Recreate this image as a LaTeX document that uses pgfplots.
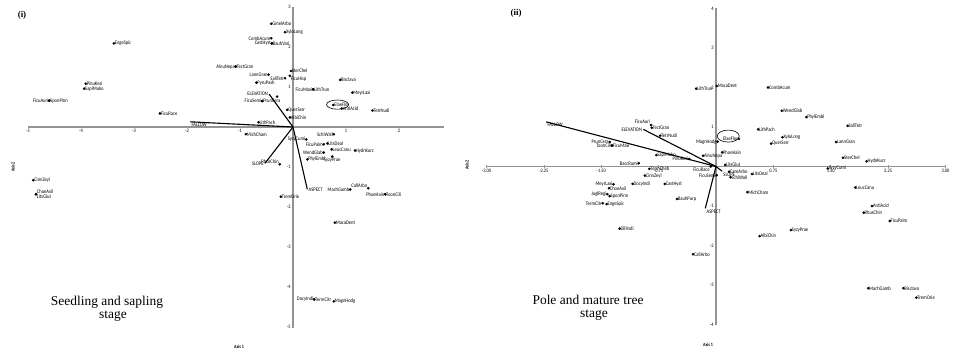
\documentclass[border=0pt]{standalone}
\usepackage{pgfplots}
\pgfplotsset{compat=1.18}
\usepackage{fontspec}
\setmainfont{Liberation Serif}
\newfontfamily\lab[FakeStretch=0.85]{Carlito}

\tikzset{veclab/.style={font=\lab\fontsize{5.4}{6}\selectfont, inner sep=0.8bp}}
\pgfplotsset{
  ordi/.style={
    anchor=origin, enlargelimits=false, clip=false,
    axis lines=middle,
    axis line style={-, draw=gray!85, line width=1.4bp},
    every inner x axis line/.append style={-},
    every inner y axis line/.append style={-},
    tick style={draw=gray!85, line width=0.6bp},
    major tick length=2.5bp,
    tick label style={font=\lab\fontsize{5.2}{6}\selectfont, inner sep=1bp},
    /pgf/number format/assume math mode=true,
  },
  spp/.style={
    only marks, mark=*, mark size=1.1bp, black,
    nodes near coords, point meta=explicit symbolic,
    visualization depends on={value \thisrow{anc}\as\anc},
    every node near coord/.append style={anchor=\anc, font=\lab\fontsize{5.4}{6}\selectfont, inner sep=0.8bp},
  },
  vec/.style={black, line width=1.1bp, no marks},
}

\begin{document}
\begin{tikzpicture}
\useasboundingbox (0,0) rectangle (956bp,-354bp);

% ---------- (i) seedling and sapling stage ----------
\begin{axis}[ordi, at={(293bp,-127bp)}, x=53bp, y=40bp,
  xmin=-5, xmax=2.85, ymin=-5, ymax=3,
  xtick={-5,-4,-3,-2,-1,1,2}, ytick={-5,-4,-3,-2,-1,1,2,3}]
\addplot[spp] table[col sep=comma, meta=lab] {
x,y,lab,anc
-3.38,2.09,EngeSpic,west
-3.91,1.08,PinuKesi,west
-3.94,0.96,SapiMuko,west
-4.60,0.66,FicuAuri,east
-4.60,0.66,SponPinn,west
-2.51,0.34,FicuRace,west
-1.08,1.51,AlnuNepa,east
-1.08,1.51,TectGran,west
-0.41,2.58,GmelArbo,west
-0.15,2.37,XyloLong,west
-0.41,2.22,CombAcum,east
-0.40,2.09,CastHyst,east
-0.40,2.09,BauhVari,west
-0.04,1.40,SterChel,west
-0.06,1.28,FicuHisp,north west
-0.46,1.31,LannGran,east
-0.15,1.22,SaliTetr,east
-0.69,1.11,PyruPash,west
0.38,0.94,FicuMaxi,east
0.38,0.94,LithTrun,west
0.89,1.18,Bisclava,west
1.12,0.86,MeyrLaxi,west
0.76,0.55,ElaeFlor,west
0.92,0.46,AntiAcid,west
1.50,0.41,TetrNudi,west
-0.58,0.65,FicuSemi,east
-0.58,0.65,PrunCera,west
-0.11,0.43,QuerSerr,west
-0.06,0.24,AlbiChin,west
-0.65,0.12,LithPach,west
-0.89,-0.18,MichCham,west
0.25,-0.31,SyzyCumi,east
0.77,-0.18,SchiWall,east
0.65,-0.41,LitsDeal,west
0.58,-0.43,FicuPalm,east
0.73,-0.56,LeucCanu,west
1.17,-0.59,HydnKurz,west
0.58,-0.64,WendGlab,east
0.27,-0.81,PhylEmbl,west
0.74,-0.74,SyzyPrae,north
-0.25,-0.93,RhusChin,south east
-0.23,-1.74,TremOrie,west
1.08,-1.56,MachGamb,east
1.42,-1.53,CallArbo,south east
1.74,-1.68,PhoeHain,east
1.74,-1.68,ToonCili,west
0.79,-2.39,MacaDent,west
0.40,-4.31,DocyIndi,east
0.40,-4.31,TermCitr,west
0.77,-4.36,MagnHodg,west
-4.90,-1.33,CinnZeyl,west
-4.85,-1.68,ChoeAxil,south west
-4.85,-1.68,LitsGlut,north west
};
\addplot[only marks, mark=*, mark size=1.1bp, black] coordinates {(-0.30,0.76)};
\addplot[vec] coordinates {(0,0) (-1.94,0.13)} node[veclab, pos=1, anchor=north west] {FALLOW};
\addplot[vec] coordinates {(0,0) (-0.45,0.82)} node[veclab, pos=1, anchor=east] {ELEVATION};
\addplot[vec] coordinates {(0,0) (-0.53,-0.91)} node[veclab, pos=1, anchor=east] {SLOPE};
\addplot[vec] coordinates {(0,0) (0.27,-1.56)} node[veclab, pos=1, anchor=west] {ASPECT};
\draw[black, line width=0.6bp] (axis cs:0.84,0.56) ellipse [x radius=11bp, y radius=4.6bp];
\end{axis}

% ---------- (ii) pole and mature tree stage ----------
\begin{axis}[ordi, at={(716bp,-166.5bp)}, x=76.5bp, y=39.5bp,
  xmin=-3, xmax=3, ymin=-4, ymax=4,
  xtick={-3,-2.25,-1.5,-0.75,0.75,1.5,2.25,3},
  xticklabels={-3.00,-2.25,-1.50,-0.75,0.75,1.50,2.25,3.00},
  ytick={-4,-3,-2,-1,1,2,3,4}]
\addplot[spp] table[col sep=comma, meta=lab] {
x,y,lab,anc
-0.26,1.97,LithTrun,west
0.01,2.04,MacaDent,west
0.68,2.00,CombAcum,west
0.86,1.41,WendGlab,west
1.18,1.25,PhylEmbl,west
1.72,1.03,SaliTetr,west
0.55,0.94,LithPach,west
0.87,0.74,XyloLong,west
0.72,0.58,QuerSerr,west
1.57,0.62,LannGran,west
0.30,0.70,ElaeFlor,east
0.02,0.63,MagnHodg,east
0.08,0.36,PhoeHain,west
-0.17,0.27,AlnuNepa,west
1.66,0.22,SterChel,west
1.97,0.13,HydnKurz,west
1.46,-0.05,SyzyCumi,west
0.12,0.04,LitsGlut,west
0.17,-0.13,CareArbo,west
0.19,-0.27,SchiWall,west
0.47,-0.19,LitsDeal,west
0.41,-0.65,MichCham,west
0.98,-1.61,SyzyPrae,west
0.57,-1.76,AlbiChin,west
1.82,-0.53,LeucCanu,west
2.04,-1.00,AntiAcid,west
1.93,-1.17,RhusChin,west
2.27,-1.38,FicuPalm,west
1.99,-3.08,MachGamb,west
2.45,-3.08,Bisclava,west
2.62,-3.32,TremOrie,west
-0.30,-2.22,CallArbo,west
-1.26,-1.57,DillIndi,west
-0.51,-0.82,BauhPurp,west
-0.67,-0.44,CastHyst,west
-1.09,-0.44,DocyIndi,west
-0.93,-0.23,CinnZeyl,west
-0.87,-0.06,TermCheb,west
-1.01,0.08,BaccRami,east
-1.34,-0.45,MeyrLaxi,east
-1.40,-0.55,ChoeAxil,west
-1.42,-0.70,JuglRegi,east
-1.39,-0.75,SponPinn,west
-1.48,-0.93,TermCitr,east
-1.43,-0.95,EngeSpic,west
-0.85,1.05,FicuAuri,south east
-0.84,0.98,TectGran,west
-0.73,0.78,TetrNudi,west
-1.39,0.62,PrunCera,east
-1.36,0.53,ToonCili,east
-1.36,0.53,FicuMaxi,west
-0.78,0.29,SapiMuko,west
-0.35,0.19,PinuKesi,east
-0.07,0.00,FicuRace,north east
0.01,-0.22,FicuSemi,east
};
\addplot[vec] coordinates {(0,0) (-2.22,1.13)} node[veclab, pos=1, anchor=north west] {FALLOW};
\addplot[vec] coordinates {(0,0) (-0.95,0.94)} node[veclab, pos=1, anchor=east] {ELEVATION};
\addplot[vec] coordinates {(0,0) (-0.14,-1.06)} node[veclab, pos=1, anchor=north west] {ASPECT};
\addplot[vec] coordinates {(0,0) (0.08,-0.12)} node[veclab, pos=1, anchor=north west] {SLOPE};
\draw[black, line width=0.6bp] (axis cs:0.16,0.77) ellipse [x radius=11bp, y radius=6bp];
\end{axis}

% panel captions and axis names
\node[font=\bfseries\fontsize{9}{10}\selectfont] at (22bp,-15bp) {(i)};
\node[font=\bfseries\fontsize{9}{10}\selectfont] at (516bp,-13bp) {(ii)};
\node[font=\fontsize{13.5}{15}\selectfont] at (107bp,-302bp) {Seedling and sapling};
\node[font=\fontsize{13.5}{15}\selectfont] at (113bp,-316bp) {stage};
\node[font=\fontsize{13.5}{15}\selectfont] at (588bp,-300bp) {Pole and mature tree};
\node[font=\fontsize{13.5}{15}\selectfont] at (594bp,-315bp) {stage};
\node[font=\lab\bfseries\fontsize{4.8}{5}\selectfont, rotate=90] at (13bp,-167bp) {Axis 2};
\node[font=\lab\bfseries\fontsize{4.8}{5}\selectfont, rotate=90] at (467bp,-165bp) {Axis 2};
\node[font=\lab\bfseries\fontsize{4.8}{5}\selectfont] at (239bp,-347bp) {Axis 1};
\node[font=\lab\bfseries\fontsize{4.8}{5}\selectfont] at (708bp,-345bp) {Axis 1};
\end{tikzpicture}
\end{document}
